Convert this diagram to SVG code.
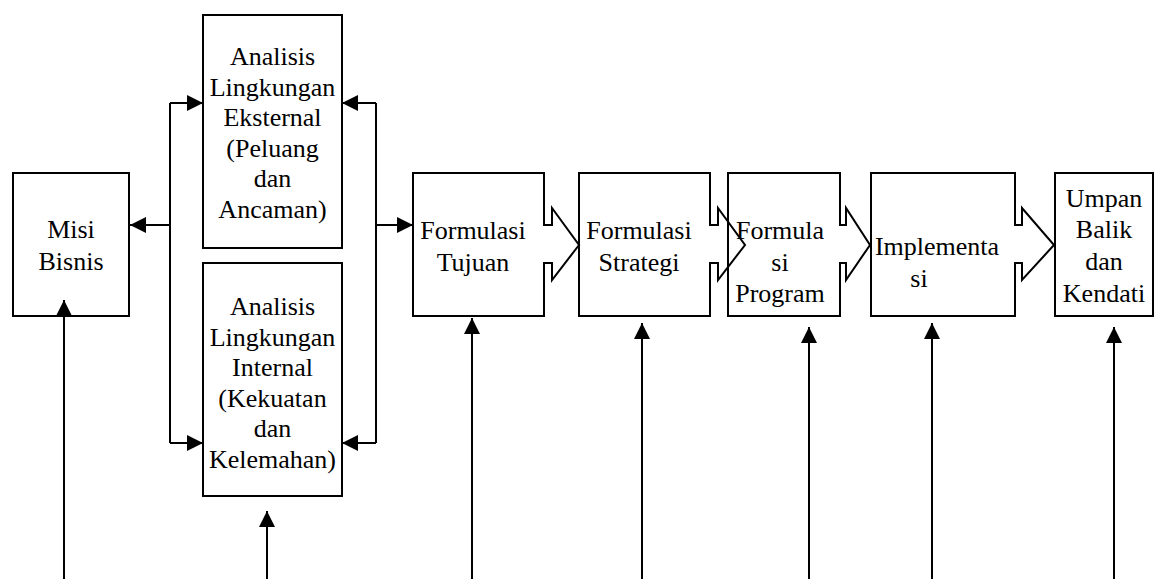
<svg xmlns="http://www.w3.org/2000/svg" width="1154" height="579" viewBox="0 0 1154 579">
<style>
.box{fill:none;stroke:#000;stroke-width:2}
.t{font-family:'Liberation Serif','DejaVu Serif',serif;font-size:26px;fill:#000;text-anchor:middle}
.c{fill:none;stroke:#000;stroke-width:2}
.a{marker-end:url(#ah)}
</style>
<defs>
<marker id="ah" markerUnits="userSpaceOnUse" markerWidth="17" markerHeight="17" refX="16" refY="8" orient="auto">
<path d="M0,0 L16,8 L0,16 Z" fill="#000"/>
</marker>
</defs>
<rect width="1154" height="579" fill="#fff"/>
<g id="misi">
<rect class="box" x="13" y="173" width="116" height="143"/>
<text class="t" x="71" y="238">Misi</text>
<text class="t" x="71" y="270">Bisnis</text>
</g>
<g id="eksternal">
<rect class="box" x="203" y="15" width="139" height="233"/>
<text class="t" x="272.5" y="65">Analisis</text>
<text class="t" x="272.5" y="95.6">Lingkungan</text>
<text class="t" x="272.5" y="126.2">Eksternal</text>
<text class="t" x="272.5" y="156.8">(Peluang</text>
<text class="t" x="272.5" y="187.4">dan</text>
<text class="t" x="272.5" y="218">Ancaman)</text>
</g>
<g id="internal">
<rect class="box" x="203" y="263" width="139" height="233"/>
<text class="t" x="272.5" y="315">Analisis</text>
<text class="t" x="272.5" y="345.6">Lingkungan</text>
<text class="t" x="272.5" y="376.2">Internal</text>
<text class="t" x="272.5" y="406.8">(Kekuatan</text>
<text class="t" x="272.5" y="437.4">dan</text>
<text class="t" x="272.5" y="468">Kelemahan)</text>
</g>
<g id="tujuan">
<path class="box" d="M413,173 H544 V225 H552 V208 L579,245 L552,280 V263 H544 V316 H413 Z"/>
<text class="t" x="473" y="239">Formulasi</text>
<text class="t" x="473" y="271">Tujuan</text>
</g>
<g id="strategi">
<path class="box" d="M579,173 H710 V225 H718 V208 L745,245 L718,280 V263 H710 V316 H579 Z"/>
<text class="t" x="639" y="239">Formulasi</text>
<text class="t" x="639" y="271">Strategi</text>
</g>
<g id="program">
<path class="box" d="M728,173 H840 V225 H846 V208 L870,245 L846,280 V263 H840 V316 H728 Z"/>
<text class="t" x="780" y="239">Formula</text>
<text class="t" x="780" y="271">si</text>
<text class="t" x="780" y="302">Program</text>
</g>
<g id="implementasi">
<path class="box" d="M871,173 H1015 V225 H1022 V208 L1054,245 L1022,280 V263 H1015 V316 H871 Z"/>
<text class="t" x="937" y="255">Implementa</text>
<text class="t" x="919" y="287">si</text>
</g>
<g id="umpan">
<rect class="box" x="1055" y="173" width="98" height="143"/>
<text class="t" x="1104" y="207">Umpan</text>
<text class="t" x="1104" y="238">Balik</text>
<text class="t" x="1104" y="270">dan</text>
<text class="t" x="1104" y="302">Kendati</text>
</g>
<g id="connectors">
<path class="c" d="M170,103 V443"/>
<path class="c" d="M376,103 V443"/>
<path class="c a" d="M170,225 H130"/>
<path class="c a" d="M170,103 H203"/>
<path class="c a" d="M170,443 H203"/>
<path class="c a" d="M376,103 H342"/>
<path class="c a" d="M376,443 H342"/>
<path class="c a" d="M376,225 H413"/>
<path class="c a" d="M64,579 V300"/>
<path class="c a" d="M267,579 V511"/>
<path class="c a" d="M472,579 V318"/>
<path class="c a" d="M642,579 V323"/>
<path class="c a" d="M809,579 V327"/>
<path class="c a" d="M932,579 V323"/>
<path class="c a" d="M1114,579 V327"/>
</g>
</svg>
